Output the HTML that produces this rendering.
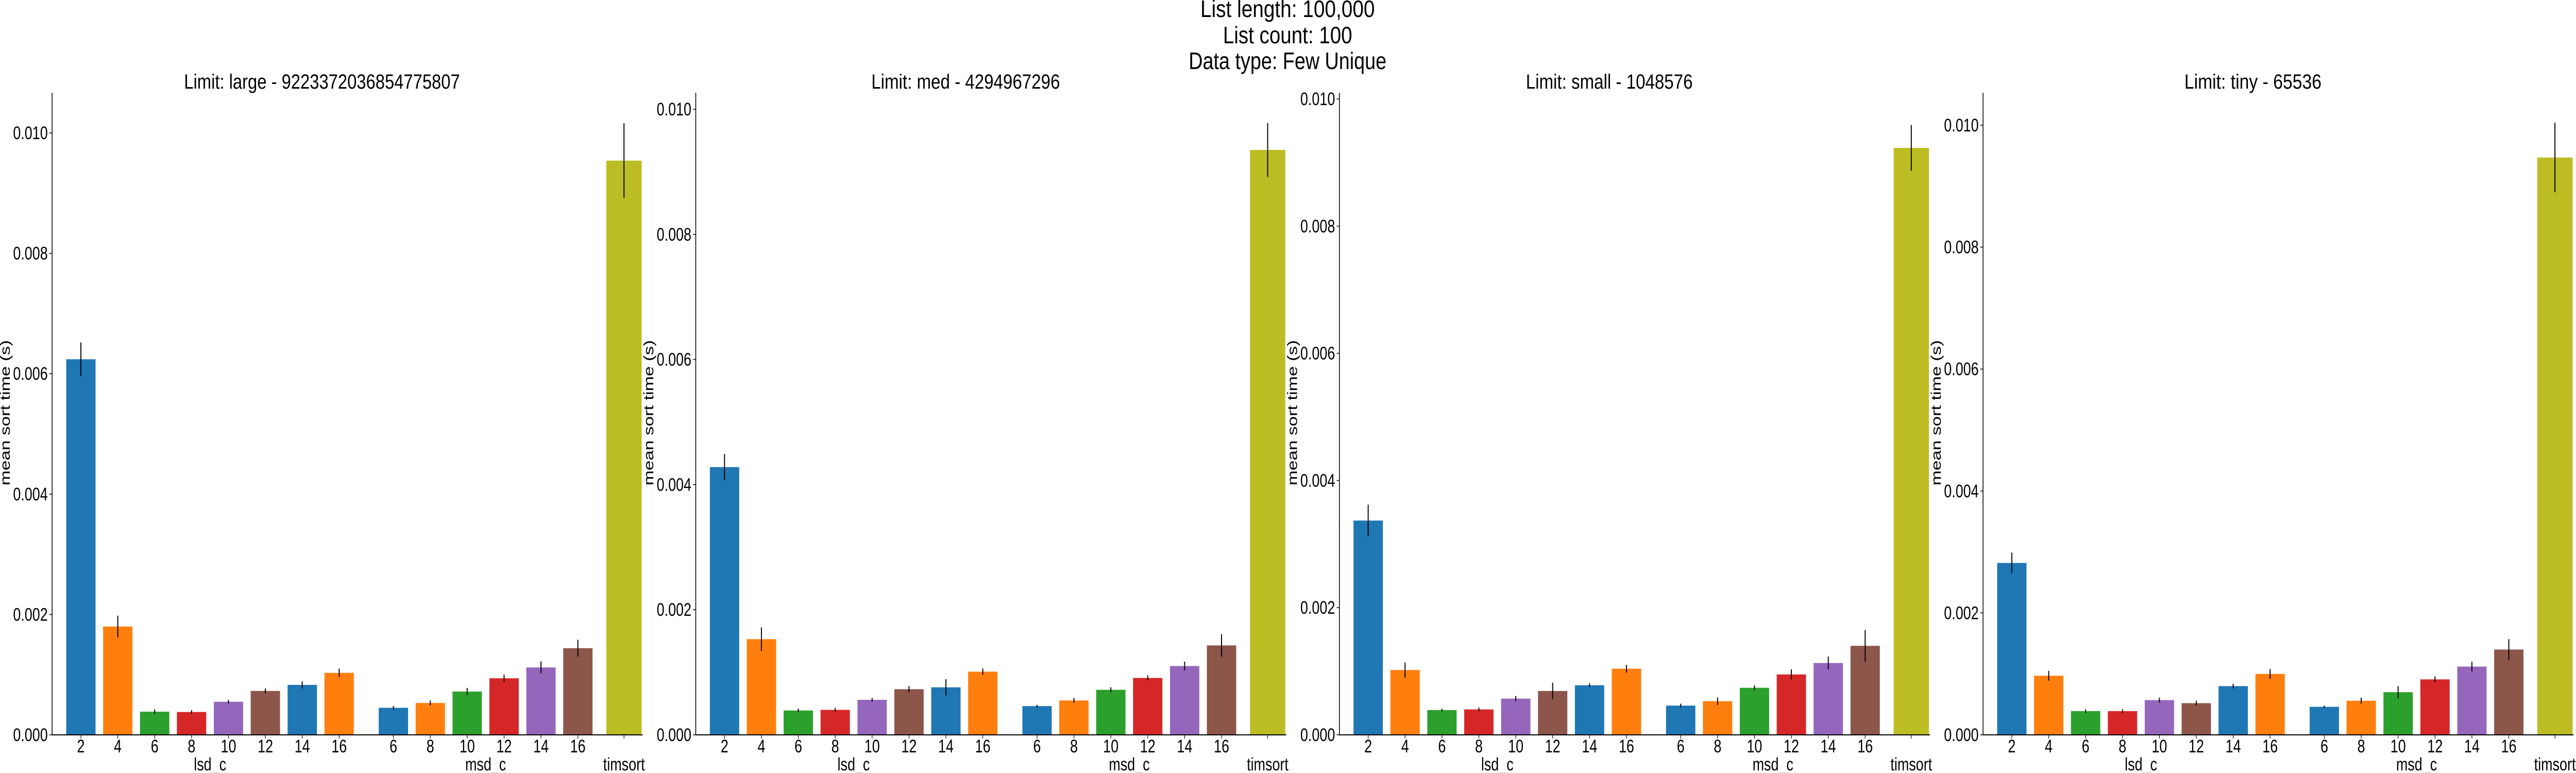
<!DOCTYPE html>
<html><head><meta charset="utf-8"><style>
html,body{margin:0;padding:0;background:#fff;overflow:hidden;width:100%;height:100%;}
svg{display:block;font-family:"Liberation Sans","DejaVu Sans",sans-serif;width:100vw;height:100vh;}
</style></head><body>
<svg id="chart" viewBox="0 0 6500 1500" preserveAspectRatio="none" xmlns="http://www.w3.org/2000/svg">
<g font-size="46" text-anchor="middle" fill="#000">
<text x="3249" y="33" textLength="440" lengthAdjust="spacingAndGlyphs">List length: 100,000</text>
<text x="3249" y="84" textLength="326" lengthAdjust="spacingAndGlyphs">List count: 100</text>
<text x="3249" y="134" textLength="499" lengthAdjust="spacingAndGlyphs">Data type: Few Unique</text>
</g>
</svg>
<script>
const panelTitles = ["Limit: large -  9223372036854775807","Limit: med -  4294967296","Limit: small -  1048576","Limit: tiny -  65536"];
const categories = ["2","4","6","8","10","12","14","16","6","8","10","12","14","16",""];
const groups = ["lsd_c","lsd_c","lsd_c","lsd_c","lsd_c","lsd_c","lsd_c","lsd_c","msd_c","msd_c","msd_c","msd_c","msd_c","msd_c","timsort"];
const groupNames = ["lsd_c","msd_c","timsort"];
const valuesLarge = [6.24,1.80,0.385,0.38,0.55,0.73,0.83,1.03,0.45,0.53,0.72,0.94,1.12,1.44,9.54];
const errLarge    = [0.28,0.18,0.04,0.03,0.03,0.04,0.06,0.07,0.03,0.04,0.06,0.06,0.10,0.14,0.62];
const valuesMed   = [4.28,1.53,0.39,0.40,0.56,0.73,0.76,1.01,0.46,0.55,0.72,0.91,1.10,1.43,9.35];
const errMed      = [0.21,0.19,0.03,0.03,0.03,0.05,0.13,0.05,0.02,0.04,0.04,0.04,0.07,0.18,0.43];
const valuesSmall = [3.37,1.02,0.39,0.40,0.57,0.69,0.78,1.04,0.46,0.53,0.74,0.95,1.13,1.40,9.23];
const errSmall    = [0.25,0.12,0.02,0.03,0.04,0.13,0.03,0.06,0.03,0.06,0.04,0.08,0.10,0.25,0.36];
const valuesTiny  = [2.82,0.97,0.39,0.39,0.57,0.52,0.80,1.00,0.46,0.56,0.70,0.91,1.12,1.40,9.47];
const errTiny     = [0.17,0.08,0.03,0.03,0.04,0.04,0.04,0.08,0.02,0.05,0.10,0.05,0.08,0.17,0.57];
const yTicks = [0,0.002,0.004,0.006,0.008,0.010];
const yTickLabels = ["0.000","0.002","0.004","0.006","0.008","0.010"];

const allValues=[valuesLarge,valuesMed,valuesSmall,valuesTiny];
const allErr=[errLarge,errMed,errSmall,errTiny];
const colors=["#1f77b4","#ff7f0e","#2ca02c","#d62728","#9467bd","#8c564b","#1f77b4","#ff7f0e","#1f77b4","#ff7f0e","#2ca02c","#d62728","#9467bd","#8c564b","#bcbd22"];
const NS="http://www.w3.org/2000/svg";
const svg=document.getElementById('chart');
function mk(tag,attrs,parent){const e=document.createElementNS(NS,tag);for(const k in attrs)e.setAttribute(k,attrs[k]);parent.appendChild(e);return e;}
const axisLefts=[131.5,1755.6,3379.7,5003.8];
const axW=1490, y0=1426, yTopPx=180;
const titleWidths=[696,476,421,346];
const scalePx=[116.8,121.4,123.4,118.3]; // px per 0.001
function slotOf(i){ if(i<8) return i; if(i<14) return 8.47+(i-8)*1.0; return 14.72; }
function xScale(i){ return 72.6+slotOf(i)*93.1; }
allValues.forEach((vals,p)=>{
  const L=axisLefts[p];
  const k=scalePx[p]*1000;
  const yS=v=>y0-v*k;
  const g=mk('g',{},svg);
  
  
  const t=mk('text',{x:L+681,y:172,'font-size':40,'text-anchor':'middle',textLength:titleWidths[p],lengthAdjust:'spacingAndGlyphs'},g);
  t.textContent=panelTitles[p];
  
  
  vals.forEach((v,i)=>{
    const cx=L+xScale(i); const w=(i==14)?89:74; const val=v/1000; const e=allErr[p][i]/1000;
    const r=mk('rect',{x:cx-w/2,y:yS(val),width:w,height:y0-yS(val),fill:colors[i]},g);
    
    
    const el=mk('line',{x1:cx,x2:cx,y1:yS(val-e),y2:yS(val+e),stroke:'#000','stroke-width':2.5},g);
    
    
    const tk=mk('line',{x1:cx,x2:cx,y1:y0,y2:y0+7,stroke:'#000','stroke-width':1.5},g);
    
    
    if(categories[i]){
      const tl=mk('text',{x:cx,y:1460,'font-size':35,'text-anchor':'middle'},g);
      tl.textContent=categories[i];
      
      
    }
  });
  groupNames.forEach((gn)=>{
    const idx=groups.map((x,i)=>x===gn?i:-1).filter(i=>i>=0);
    const cx=L+(xScale(idx[0])+xScale(idx[idx.length-1]))/2;
    const gl=mk('text',{x:cx,y:1495,'font-size':35,'text-anchor':'middle'},g);
    gl.textContent=gn;
    
    
  });
  yTicks.forEach((tv,j)=>{
    const y=yS(tv);
    const tk=mk('line',{x1:L-7,x2:L,y1:y,y2:y,stroke:'#000','stroke-width':1.5},g);
    
    
    const tl=mk('text',{x:L-11,y:y+12,'font-size':35,'text-anchor':'end'},g);
    tl.textContent=yTickLabels[j];
    
    
  });
  const yl=mk('text',{x:0,y:0,'font-size':35,'text-anchor':'middle',transform:`translate(${L-107},801) rotate(-90)`},g);
  yl.textContent='mean sort time (s)';
  
  
  const sl=mk('line',{x1:L,x2:L,y1:yTopPx,y2:y0,stroke:'#000','stroke-width':2},g);
  
  
  const sb=mk('line',{x1:L,x2:L+axW,y1:y0,y2:y0,stroke:'#000','stroke-width':2},g);
  
  
});
</script>
</body></html>
